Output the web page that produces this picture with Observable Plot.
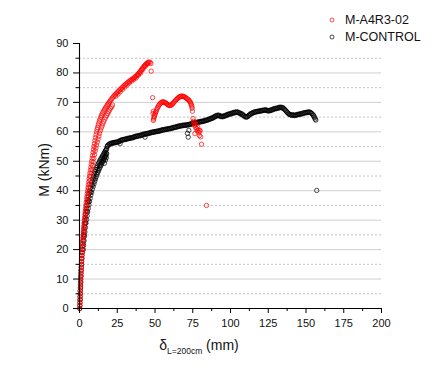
<!DOCTYPE html>
<html>
<head>
<meta charset="utf-8">
<script src="https://cdn.jsdelivr.net/npm/d3@7"></script>
<script src="https://cdn.jsdelivr.net/npm/@observablehq/plot@0.6"></script>
<style>
  html, body { margin: 0; padding: 0; background: #fff; }
  #wrap { position: relative; width: 444px; height: 370px; font-family: Arial, "Liberation Sans", sans-serif; }
  #legend { position: absolute; left: 326px; top: 12px; font-size: 12.5px; color: #111; line-height: 16.6px; }
  #legend .row { display: flex; align-items: center; white-space: nowrap; }
  #legend svg { width: 12px; height: 12px; margin-right: 7px; }
</style>
</head>
<body>
<div id="wrap">
  <div id="chart"></div>
  <div id="legend"></div>
</div>
<script>
// ---- Data ----
const seriesNames = ["M-A4R3-02", "M-CONTROL"];
const seriesColors = ["red", "black"];

// M-A4R3-02 : steep loading branch (several adjacent passes give the thick band)
const a4r3Rise = [
  [0.2,0],[0.3,2],[0.4,4],[0.5,6],[0.6,8],[0.8,10],[0.9,12],[1.1,14],[1.3,16],[1.5,18],
  [1.8,20],[2.0,22],[2.3,24],[2.6,26],[2.9,28],[3.2,30],[3.6,32],[4.0,34],[4.4,36],[4.9,38],
  [5.4,40],[5.9,42],[6.4,44],[6.9,46],[7.5,48],[8.1,50],[8.7,52],[9.3,54],[9.9,56],[10.6,58],
  [11.3,60],[12.0,61.5],[12.8,63],[13.6,64.3],[14.5,65.5],[15.5,66.6],[16.6,67.6],[17.7,68.5],
  [18.8,69.4],[19.9,70.2],[21.0,71],[22.2,71.8],[23.4,72.5],[24.7,73.2],[26.0,73.9],[27.4,74.6],
  [28.8,75.3],[30.2,76],[31.6,76.6],[33.0,77.2],[34.4,77.7],[35.8,78.2],[37.0,78.7],[38.1,79.2],
  [39.1,79.8],[40.1,80.4],[41.1,81.1],[42.1,81.8],[43.1,82.5],[44.1,83],[45.1,83.4],[46.0,83.7],
  [46.8,83.6],[47.3,83.2]
];
const a4r3RiseMid = [
  [0.25,1],[0.35,3],[0.45,5],[0.55,7],[0.7,9],[0.85,11],[1.0,13],[1.2,15],[1.4,17],[1.65,19],
  [1.9,21],[2.15,23],[2.45,25],[2.75,27],[3.05,29],[3.4,31],[3.8,33],[4.2,35],[4.65,37],[5.15,39],
  [5.65,41],[6.15,43],[6.65,45],[7.2,47],[7.8,49],[8.4,51],[9.0,53],[9.6,55],[10.25,57],[10.95,59],
  [11.65,60.8],[12.4,62.3],[13.2,63.7],[14.05,64.9],[15,66.1],[16.05,67.1],[17.15,68.1],[18.25,69],
  [19.35,69.8],[20.45,70.6],[21.6,71.4],[22.8,72.2],[24.05,72.9],[25.35,73.6],[26.7,74.3],[28.1,75],
  [29.5,75.7],[30.9,76.3],[32.3,76.9],[33.7,77.5],[35.1,78],[36.4,78.5],[37.55,79],[38.6,79.5],
  [39.6,80.1],[40.6,80.8],[41.6,81.5],[42.6,82.2],[43.6,82.8],[44.6,83.2],[45.55,83.6]
];
const a4r3RiseLow = [
  [24,72.1],[25.5,72.8],[27,73.6],[28.5,74.4],[30,75.2],[31.5,75.9],[33,76.6],[34.5,77.2],
  [36,77.8],[37.5,78.3],[39,79.2],[40.5,80],[42,81.2],[43.5,82.2],[45,83]
];
const a4r3RiseB = [
  [0.5,3],[0.6,5],[0.7,7],[0.85,9],[1.0,11],[1.2,13],[1.4,15],[1.65,17],[1.9,19],[2.15,21],
  [2.4,23],[2.65,24.5],[2.9,26],[3.2,27.5],[3.5,29],[3.8,30.5],[4.1,32],[4.45,33.5],[4.8,35],
  [5.15,36.5],[5.5,38],[5.85,39.5],[6.2,41],[6.6,42.2],[7.0,43.5],[7.4,44.8],[7.8,46],[8.2,47.2],
  [8.6,48.5],[9.05,49.8],[9.5,51],[9.95,52.2],[10.4,53.5],[10.85,54.5],[11.3,55.5],[11.8,56.5],
  [12.3,57.5],[12.8,58.5],[13.3,59.5],[13.85,60.4],[14.4,61.3],[14.95,62],[15.5,62.8],[16.1,63.5],
  [16.7,64.3],[17.35,65],[18.0,65.6],[18.65,66.2],[19.3,66.8],[19.95,67.4],[20.6,68],[21.25,68.5],
  [21.9,69.1]
];
// after the peak: drop and second hump
const a4r3Drop = [[47.5,80.6],[48.4,71.6],[48.9,67],[48.7,66.2]];
const a4r3Hump = [
  [48.9,63.9],[49.1,64.3],[49.3,64.8],[49.55,65.2],[49.8,65.7],[50.1,66.1],[50.4,66.6],[50.75,67],
  [51.1,67.5],[51.5,68],[51.9,68.4],[52.35,68.8],[52.8,69.2],[53.3,69.5],[53.8,69.8],[54.3,70],
  [54.8,70.1],[55.3,70.2],[55.8,70.1],[56.3,70],[56.8,69.9],[57.3,69.7],[57.8,69.5],[58.3,69.3],
  [58.8,69.1],[59.3,69],[59.8,68.9],[60.3,69],[60.8,69.1],[61.3,69.3],[61.8,69.6],[62.3,69.9],
  [62.8,70.2],[63.3,70.5],[63.8,70.8],[64.3,71],[64.8,71.3],[65.3,71.5],[65.8,71.7],[66.3,71.9],
  [66.8,72],[67.3,72.1],[67.8,72.1],[68.3,72.1],[68.8,72],[69.3,71.9],[69.8,71.8],[70.3,71.6],
  [70.8,71.4],[71.3,71.2],[71.8,71],[72.3,70.8],[72.8,70.5],[73.2,70.2],[73.6,69.8],[73.9,69.4],
  [74.2,69],[74.4,68.5],[74.6,68],[74.8,67]
];
const a4r3Tail = [
  [75.2,64.5],[75.5,63.6],[75.8,62.8],[76.2,62.2],[76.5,63.2],[76.8,61.5],[77.2,62.4],[77.6,61],
  [77.9,60.3],[78.3,61.6],[78.6,60.6],[79.0,59.8],[79.4,58.7],[79.8,60.2],[80.3,58.3],[76.4,59.4],
  [79.7,60.5],[80.8,55.8],[84.1,35]
];

// M-CONTROL
const controlRise = [
  [0.2,0],[0.25,1],[0.3,2],[0.35,3],[0.4,4],[0.45,5],[0.5,6],[0.6,7],[0.7,8],[0.75,9],[0.8,10],
  [0.9,11],[1.0,12],[1.1,13],[1.2,14],[1.3,15],[1.4,16],[1.5,17],[1.6,18],[1.75,19],[1.9,20],
  [2.05,21],[2.2,22],[2.35,23],[2.5,24],[2.65,25],[2.8,26],[3.0,27],[3.2,28],[3.4,29],[3.6,30],
  [3.85,31],[4.1,32],[4.4,33],[4.7,34],[5.0,35],[5.3,36],[5.65,37],[6.0,38],[6.4,39],[6.8,40],
  [7.25,41],[7.7,42],[8.25,43],[8.8,44],[9.3,44.9],[9.8,45.8],[10.3,46.5],[10.8,47.2],[11.3,47.8],
  [11.8,48.4],[12.3,49],[12.8,49.5],[13.3,50],[13.8,50.5],[14.3,51],[14.8,51.4],[15.25,51.8],
  [15.7,52.2],[16.15,52.6],[16.6,53],[17,53.4],[17.4,53.7],[17.7,54],[18.0,54.3]
];
const controlRiseB = [
  [2.5,20],[2.75,21.5],[3.0,23],[3.3,24.5],[3.6,26],[3.95,27.5],[4.3,29],[4.65,30.2],[5.0,31.5],
  [5.4,32.8],[5.8,34],[6.2,35.2],[6.6,36.3],[7.05,37.4],[7.5,38.5],[8.0,39.5],[8.5,40.5],
  [9.05,41.4],[9.6,42.3],[10.1,43.2],[10.6,44],[11.1,44.8],[11.6,45.5],[12.1,46.2],[12.6,46.8],
  [13.1,47.4],[13.6,48],[14.1,48.5],[14.6,49],[15.0,49.5],[15.5,50],[15.95,50.5],[16.4,50.9],
  [16.85,51.4],[17.3,51.8],[17.65,52.2],[18.0,52.6],[16.5,49.3],[17.2,50.4],[17.8,51.2]
];
const controlRiseMid = [
  [3.1,25],[4.0,29],[5.0,33],[6.1,36.5],[7.3,39.5],[8.5,42],[9.7,44],[10.9,45.8],[12.1,47.3],
  [13.3,48.6],[14.5,49.8],[15.6,50.9],[16.6,51.8],[17.6,52.8]
];
const controlPlateau = [
  [18.3,55],[18.8,55.5],[19.5,55.8],[20.3,56],[21.2,56.2],[22.1,56.3],[23,56.4],[24,56.5],
  [25,56.6],[26,56.8],[26.9,56],[27,57.1],[28,57.3],[29,57.4],[30,57.5],[31,57.7],[32,57.8],
  [33,57.9],[34,58],[35,58.1],[36,58.3],[37,58.5],[38,58.6],[39,58.7],[40,58.8],[41,59],
  [42,59.2],[43,59.3],[43.4,58.2],[44,59.4],[45,59.5],[46,59.6],[47,59.8],[48,59.9],[49,60],
  [50,60.1],[51,60.2],[52,60.3],[53,60.4],[54,60.6],[55,60.7],[56,60.8],[57,60.9],[58,61],
  [59,61.1],[60,61.2],[61,61.3],[62,61.5],[63,61.6],[64,61.7],[65,61.9],[66,62],[67,62.1],
  [68,62.2],[69,62.3],[70,62.3],[71,62.4],[71.5,59.5],[72,58.2],[72.4,60.5],[72,62.5],
  [73,62.6],[74,62.8],[75,63],[76,63.1],[77,63.2],[78,63.3],[79,63.4],[80,63.5],[81,63.6],
  [82,63.7],[83,63.9],[84,64],[85,64.2],[86,64.4],[87,64.6],[88,64.8],[89,65.1],[90,65.4],
  [91,65.6],[92,65.7],[93,65.5],[94,65.3],[95,65.3],[96,65.5],[97,65.7],[98,65.9],[99,66.1],
  [100,66.2],[101,66.4],[102,66.6],[103,66.7],[104,66.8],[105,66.7],[106,66.5],[107,66.2],
  [108,66],[109,65.5],[110,65.2],[111,65.1],[112,65.6],[113,66.1],[114,66.3],[115,66.6],
  [116,66.8],[117,66.9],[118,67],[119,67.1],[120,67.2],[121,67.3],[122,67.4],[123,67.5],
  [124,67.4],[125,67.2],[126,67.3],[127,67.5],[128,67.7],[129,67.9],[130,68],[131,68.1],
  [132,68.3],[133,68.4],[134,68.3],[135,68.1],[136,67.6],[137,67],[138,66.4],[139,66],
  [140,65.8],[141,65.8],[142,65.7],[143,65.7],[144,65.9],[145,66],[146,66.1],[147,66.2],
  [148,66.4],[149,66.5],[150,66.6],[151,66.7],[152,66.8],[153,66.6],[154,66.2],[155,65.6],
  [155.8,64.8],[156.5,64],[157.1,40.1]
];
const controlPlateauB = [
  [18.6,55.2],[19.9,55.7],[20.8,56.0],[21.7,56.1],[22.6,56.2],[23.5,56.3],[24.5,56.4],[25.5,56.5],
  [26.5,56.7],[27.5,57],[28.5,57.2],[29.5,57.3],[30.5,57.4],[31.5,57.5],[32.5,57.7],[33.5,57.8],
  [34.5,57.9],[35.5,58],[36.5,58.2],[37.5,58.4],[38.5,58.5],[39.5,58.6],[40.5,58.7],[41.5,58.9],
  [42.5,59],[43.5,59.2],[44.5,59.3],[45.5,59.4],[46.5,59.5],[47.5,59.7],[48.5,59.8],[49.5,59.9],
  [50.5,60],[51.5,60.1],[52.5,60.2],[53.5,60.3],[54.5,60.5],[55.5,60.6],[56.5,60.7],[57.5,60.8],
  [58.5,60.9],[59.5,61],[60.5,61.1],[61.5,61.2],[62.5,61.4],[63.5,61.5],[64.5,61.6],[65.5,61.8],
  [66.5,61.9],[67.5,62],[68.5,62.1],[69.5,62.2],[70.5,62.2],[71.5,62.3],[72.5,62.4],[73.5,62.5],
  [74.5,62.7],[75.5,62.9],[76.5,63],[77.5,63.1],[78.5,63.2],[79.5,63.3],[80.5,63.4],[81.5,63.5],
  [82.5,63.6],[83.5,63.8],[84.5,63.9],[85.5,64.1],[86.5,64.3],[87.5,64.5],[88.5,64.7],[89.5,65],
  [90.5,65.3],[91.5,65.5],[92.5,65.4],[93.5,65.2],[94.5,65.1],[95.5,65.2],[96.5,65.4],[97.5,65.6],
  [98.5,65.8],[99.5,66],[100.5,66.1],[101.5,66.3],[102.5,66.4],[103.5,66.6],[104.5,66.6],
  [105.5,66.4],[106.5,66.1],[107.5,65.9],[108.5,65.5],[109.5,65.1],[110.5,65],[111.5,65.2],
  [112.5,65.7],[113.5,66],[114.5,66.3],[115.5,66.5],[116.5,66.7],[117.5,66.8],[118.5,66.9],
  [119.5,67],[120.5,67.1],[121.5,67.2],[122.5,67.3],[123.5,67.3],[124.5,67.1],[125.5,67.1],
  [126.5,67.2],[127.5,67.4],[128.5,67.6],[129.5,67.8],[130.5,67.9],[131.5,68],[132.5,68.2],
  [133.5,68.2],[134.5,68.1],[135.5,67.7],[136.5,67.2],[137.5,66.6],[138.5,66.1],[139.5,65.8],
  [140.5,65.6],[141.5,65.6],[142.5,65.5],[143.5,65.6],[144.5,65.8],[145.5,65.9],[146.5,66],
  [147.5,66.1],[148.5,66.3],[149.5,66.4],[150.5,66.5],[151.5,66.6],[152.5,66.6],[153.5,66.3],
  [154.5,65.8],[155.3,65.1],[156.1,64.3]
];

const xTicks = [0,25,50,75,100,125,150,175,200];
const xMinorTicks = [12.5,37.5,62.5,87.5,112.5,137.5,162.5,187.5];
const yTicks = [0,10,20,30,40,50,60,70,80,90];
const yMinorTicks = [5,15,25,35,45,55,65,75,85];
const yGridMajor = [10,20,30,40,50,60,70,80];
const yGridMinor = [5,15,25,35,45,55,65,75,85];

// ---- Build tables ----
const toRows = (arr) => arr.map(([x, y]) => ({x, y}));
const a4r3Data = toRows([...a4r3Rise, ...a4r3RiseMid, ...a4r3RiseLow, ...a4r3RiseB, ...a4r3Drop, ...a4r3Hump, ...a4r3Tail]);
const controlData = toRows([...controlRise, ...controlRiseB, ...controlRiseMid, ...controlPlateau, ...controlPlateauB]);

const plot = Plot.plot({
  width: 444,
  height: 370,
  marginLeft: 79,
  marginRight: 63,
  marginTop: 43,
  marginBottom: 62,
  x: {domain: [0, 200]},
  y: {domain: [0, 90]},
  style: {fontFamily: "Arial, 'Liberation Sans', sans-serif", fontSize: "11px", color: "#111", background: "#fff"},
  marks: [
    Plot.ruleY(yGridMajor, {stroke: "#cfcfcf", strokeWidth: 1}),
    Plot.ruleY(yGridMinor, {stroke: "#c4c4c4", strokeWidth: 1, strokeDasharray: "2,2"}),
    Plot.dot(controlData, {x: "x", y: "y", r: 2.2, stroke: seriesColors[1], strokeWidth: 0.7}),
    Plot.dot(a4r3Data, {x: "x", y: "y", r: 2.2, stroke: seriesColors[0], strokeWidth: 0.7}),
    Plot.ruleX([0], {stroke: "#000", strokeWidth: 1.1}),
    Plot.ruleY([0], {stroke: "#000", strokeWidth: 1.1}),
    Plot.axisY(yTicks, {tickSize: 6, tickPadding: 5, label: null, stroke: "#000"}),
    Plot.axisY(yMinorTicks, {tickSize: 3.5, tickFormat: () => "", label: null, stroke: "#000"}),
    Plot.axisX(xTicks, {tickSize: 5, tickPadding: 6, label: null, stroke: "#000"}),
    Plot.axisX(xMinorTicks, {tickSize: 3, tickFormat: () => "", label: null, stroke: "#000"})
  ]
});
document.getElementById("chart").appendChild(plot);

// axis titles
const svg = d3.select(plot);
svg.append("text")
  .attr("transform", "translate(48.5,170) rotate(-90)")
  .attr("text-anchor", "middle")
  .attr("font-size", 14)
  .attr("fill", "#111")
  .text("M (kNm)");
const xl = svg.append("text")
  .attr("x", 199).attr("y", 350)
  .attr("font-size", 14)
  .attr("fill", "#111");
xl.append("tspan").text("δ");
xl.append("tspan").attr("font-size", 8.5).attr("dy", 4).text("L=200cm");
xl.append("tspan").attr("dy", -4).text(" (mm)");

// legend
const legend = d3.select("#legend");
seriesNames.forEach((name, i) => {
  const row = legend.append("div").attr("class", "row");
  const s = row.append("svg").attr("viewBox", "0 0 12 12");
  s.append("circle").attr("cx", 6).attr("cy", 6).attr("r", 2)
    .attr("fill", "none").attr("stroke", seriesColors[i]).attr("stroke-width", 0.7);
  row.append("span").text(name);
});
</script>
</body>
</html>
